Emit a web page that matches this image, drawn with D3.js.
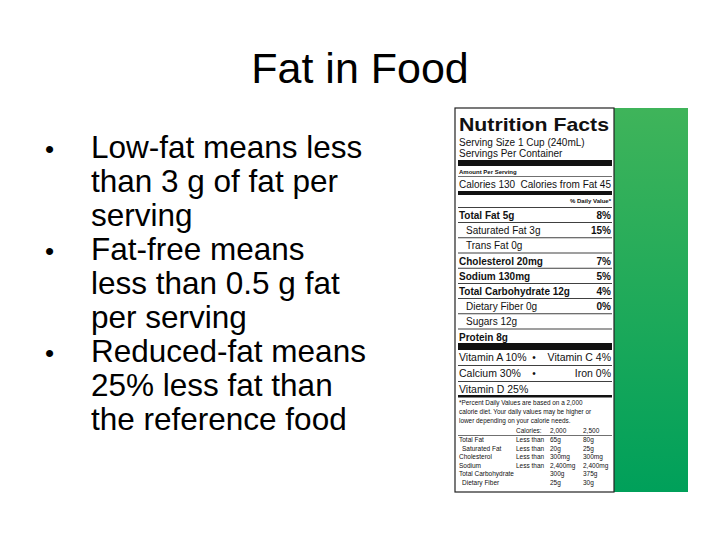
<!DOCTYPE html><html><head><meta charset="utf-8">
<script src="https://cdn.jsdelivr.net/npm/d3@7"></script>
<style>body{margin:0;background:#fff}</style></head><body>
<script>
const title="Fat in Food";
const bullets=[["Low-fat means less","than 3 g of fat per","serving"],["Fat-free means","less than 0.5 g fat","per serving"],["Reduced-fat means","25% less fat than","the reference food"]];
const nutrients=["Total Fat 5g","Saturated Fat 3g","Trans Fat 0g","Cholesterol 20mg","Sodium 130mg","Total Carbohydrate 12g","Dietary Fiber 0g","Sugars 12g","Protein 8g"];
const dailyValues=["8%","15%","","7%","5%","4%","0%","",""];
const indented=[false,true,true,false,false,false,true,true,false];
const vitamins=[["Vitamin A 10%","Vitamin C 4%"],["Calcium 30%","Iron 0%"],["Vitamin D 25%",""]];
const footnote=["*Percent Daily Values are based on a 2,000","calorie diet. Your daily values may be higher or","lower depending on your calorie needs."];
const refHeader=["","","Calories:","2,000","2,500"];
const refRows=[["Total Fat","","Less than","65g","80g"],["Saturated Fat","1","Less than","20g","25g"],["Cholesterol","","Less than","300mg","300mg"],["Sodium","","Less than","2,400mg","2,400mg"],["Total Carbohydrate","","","300g","375g"],["Dietary Fiber","1","","25g","30g"]];

const svg=d3.select("body").append("svg").attr("width",720).attr("height",540);
const F="Liberation Sans, Arial, sans-serif";
svg.append("text").attr("x",360).attr("y",83).attr("text-anchor","middle").attr("font-family",F).attr("font-size",43).text(title);
const ly=d3.scaleLinear().domain([0,1]).range([158,192]);
let li=0;
bullets.forEach((b,bi)=>{
  svg.append("text").attr("x",45).attr("y",ly(li)).attr("font-family",F).attr("font-size",26).text("•");
  b.forEach(t=>{svg.append("text").attr("x",91).attr("y",ly(li)).attr("font-family",F).attr("font-size",31.5).text(t);li++;});
});
const L=455,R=614,T=108,B=492;
const defs=svg.append("defs");
const g=defs.append("linearGradient").attr("id","gr").attr("x1",0).attr("y1",0).attr("x2",0).attr("y2",1);
g.append("stop").attr("offset",0).attr("stop-color","#3fb45a");
g.append("stop").attr("offset",1).attr("stop-color","#00a05a");
svg.append("rect").attr("x",R).attr("y",T).attr("width",688-R).attr("height",B-T).attr("fill","url(#gr)");
svg.append("rect").attr("x",L).attr("y",T).attr("width",R-L).attr("height",B-T).attr("fill","#fff").attr("stroke","#222").attr("stroke-width",1.2);
const x0=459,x1=611;
const tx=(x,y,t,s,w,a)=>svg.append("text").attr("x",x).attr("y",y).attr("font-family",F).attr("font-size",s).attr("font-weight",w||"normal").attr("text-anchor",a||"start").attr("fill","#111").text(t);
const rule=(y,h)=>svg.append("rect").attr("x",x0-1).attr("y",y).attr("width",x1-x0+2).attr("height",h).attr("fill","#111");
tx(x0,131,"Nutrition Facts",19,"bold").attr("textLength",150).attr("lengthAdjust","spacingAndGlyphs");
tx(x0,146,"Serving Size 1 Cup (240mL)",10);
tx(x0,157,"Servings Per Container",10);
rule(160,6);
tx(x0,174,"Amount Per Serving",6,"bold");
rule(176,0.6);
tx(x0,188,"Calories 130",10);tx(x1,188,"Calories from Fat 45",10,null,"end");
rule(191,4);
tx(x1,203,"% Daily Value*",6,"bold","end");
const ny=d3.scaleLinear().domain([0,1]).range([219,234.2]);
nutrients.forEach((n,i)=>{
  rule(ny(i)-12,0.8);
  tx(indented[i]?x0+7:x0,ny(i),n,10,indented[i]?"normal":"bold");
  tx(x1,ny(i),dailyValues[i],10,"bold","end");
});
rule(343,7);
const vy=d3.scaleLinear().domain([0,1]).range([361,377]);
vitamins.forEach((v,i)=>{
  if(i>0)rule(vy(i)-12,0.8);
  tx(x0,vy(i),v[0],10.5);
  if(v[1]){tx(534,vy(i),"•",10,null,"middle");tx(x1,vy(i),v[1],10.5,null,"end");}
});
rule(395,2.5);
const fy=d3.scaleLinear().domain([0,1]).range([405,414]);
footnote.forEach((t,i)=>tx(x0,fy(i),t,6.4));
const cx=[x0,x0,x0+57,x0+91,x0+124];
refHeader.forEach((t,j)=>tx(cx[j],433,t,6.5));
rule(435,0.6);
const ry=d3.scaleLinear().domain([0,1]).range([442,450.5]);
refRows.forEach((r,i)=>r.forEach((t,j)=>{if(j==1)return;tx(j==0&&r[1]?cx[0]+3:cx[j],ry(i),t,6.5);}));
</script></body></html>
